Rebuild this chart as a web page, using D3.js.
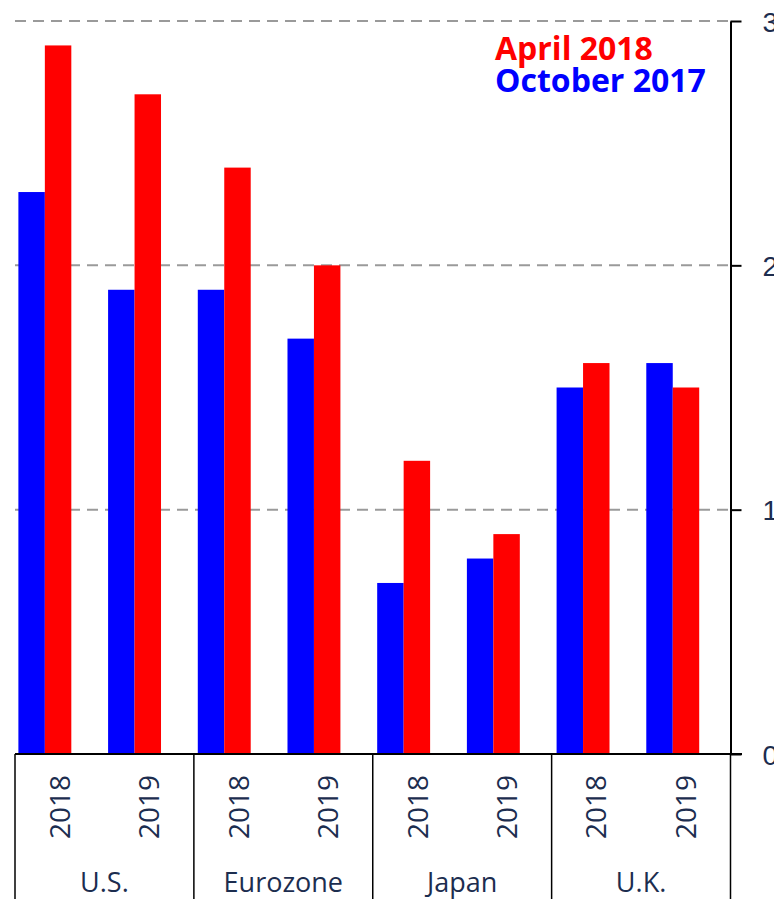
<!DOCTYPE html>
<html>
<head>
<meta charset="utf-8">
<script src="https://cdn.jsdelivr.net/npm/d3@7"></script>
<style>
  body { margin: 0; background: #fff; }
  svg { display: block; font-family: "Open Sans", sans-serif; }
</style>
</head>
<body>
<div id="chart"></div>
<script>
// regions, and the two years shown under each
var regions = ['U.S.', 'Eurozone', 'Japan', 'U.K.'];
var years = ['2018', '2019'];
// forecast values, one per region/year in order
var oct2017 = [2.3, 1.9, 1.9, 1.7, 0.7, 0.8, 1.5, 1.6];
var apr2018 = [2.9, 2.7, 2.4, 2.0, 1.2, 0.9, 1.6, 1.5];
var seriesNames = ['October 2017', 'April 2018'];
var seriesColors = ['#0000ff', '#ff0000'];
var yTicks = [0, 1, 2, 3];

var width = 774, height = 899;
var textColor = '#1c2d4f';

// one entry per bar group
var cats = [];
regions.forEach(function(r) {
  years.forEach(function(yr) { cats.push(r + '|' + yr); });
});
var rows = cats.map(function(c, i) {
  return { key: c, year: c.split('|')[1], values: [oct2017[i], apr2018[i]] };
});

var svg = d3.select('#chart').append('svg')
  .attr('width', width)
  .attr('height', height);

var y = d3.scaleLinear().domain([0, 3]).range([754, 21]);

// the bars sit a little left of the label boxes, like in the original
var xBars = d3.scaleBand().domain(cats).range([0, 717.6])
  .paddingInner(0.41).paddingOuter(0.205);
var xSeries = d3.scaleBand().domain([0, 1]).range([0, xBars.bandwidth()]);

// labels and boxes below the axis
var xLab = d3.scaleBand().domain(cats).range([15, 730.5]);
var xReg = d3.scaleBand().domain(regions).range([15, 730.5]);

// dashed gridlines
svg.append('g').selectAll('line')
  .data(yTicks.filter(function(d) { return d > 0; }))
  .enter().append('line')
  .attr('x1', 15)
  .attr('x2', 730)
  .attr('y1', function(d) { return y(d); })
  .attr('y2', function(d) { return y(d); })
  .attr('stroke', '#9a9a9a')
  .attr('stroke-width', 2)
  .attr('stroke-dasharray', '11,7');

// bars
var group = svg.append('g').selectAll('g')
  .data(rows)
  .enter().append('g')
  .attr('transform', function(d) { return 'translate(' + xBars(d.key) + ',0)'; });

group.selectAll('rect')
  .data(function(d) { return d.values; })
  .enter().append('rect')
  .attr('x', function(d, i) { return xSeries(i); })
  .attr('y', function(d) { return y(d); })
  .attr('width', xSeries.bandwidth())
  .attr('height', function(d) { return y(0) - y(d); })
  .attr('fill', function(d, i) { return seriesColors[i]; });

// baseline
svg.append('line')
  .attr('x1', 15).attr('x2', 742)
  .attr('y1', y(0)).attr('y2', y(0))
  .attr('stroke', '#000').attr('stroke-width', 2);

// right axis
var axis = d3.axisRight(y)
  .tickValues(yTicks)
  .tickFormat(d3.format('d'))
  .tickSize(11)
  .tickSizeOuter(0)
  .tickPadding(21);

var ax = svg.append('g')
  .attr('transform', 'translate(730.5,0)')
  .call(axis);
ax.select('.domain').attr('stroke', '#000').attr('stroke-width', 2);
ax.selectAll('.tick line').attr('stroke', '#000').attr('stroke-width', 2);
ax.selectAll('.tick text')
  .attr('fill', textColor)
  .style('font-size', '28px')
  .attr('dy', '0.36em');

// region box separators
var seps = regions.map(function(r) { return xReg(r); }).concat([730.5]);
svg.append('g').selectAll('line')
  .data(seps)
  .enter().append('line')
  .attr('x1', function(d) { return d; })
  .attr('x2', function(d) { return d; })
  .attr('y1', y(0))
  .attr('y2', height)
  .attr('stroke', '#000')
  .attr('stroke-width', 1.5);

// year labels, rotated
svg.append('g').selectAll('text')
  .data(rows)
  .enter().append('text')
  .attr('transform', function(d) {
    return 'translate(' + (xLab(d.key) + xLab.bandwidth() / 2) + ',807) rotate(-90)';
  })
  .attr('text-anchor', 'middle')
  .attr('dy', '0.36em')
  .attr('fill', textColor)
  .style('font-size', '28px')
  .text(function(d) { return d.year; });

// region labels
svg.append('g').selectAll('text')
  .data(regions)
  .enter().append('text')
  .attr('x', function(d) { return xReg(d) + xReg.bandwidth() / 2; })
  .attr('y', 892)
  .attr('text-anchor', 'middle')
  .attr('fill', textColor)
  .style('font-size', '27px')
  .text(function(d) { return d; });

// legend: April on top, October below
var legend = [
  { name: seriesNames[1], color: seriesColors[1] },
  { name: seriesNames[0], color: seriesColors[0] }
];
svg.append('g').selectAll('text')
  .data(legend)
  .enter().append('text')
  .attr('x', 495)
  .attr('y', function(d, i) { return 60 + i * 32; })
  .attr('fill', function(d) { return d.color; })
  .style('font-size', '32px')
  .style('font-weight', 'bold')
  .text(function(d) { return d.name; });
</script>
</body>
</html>
